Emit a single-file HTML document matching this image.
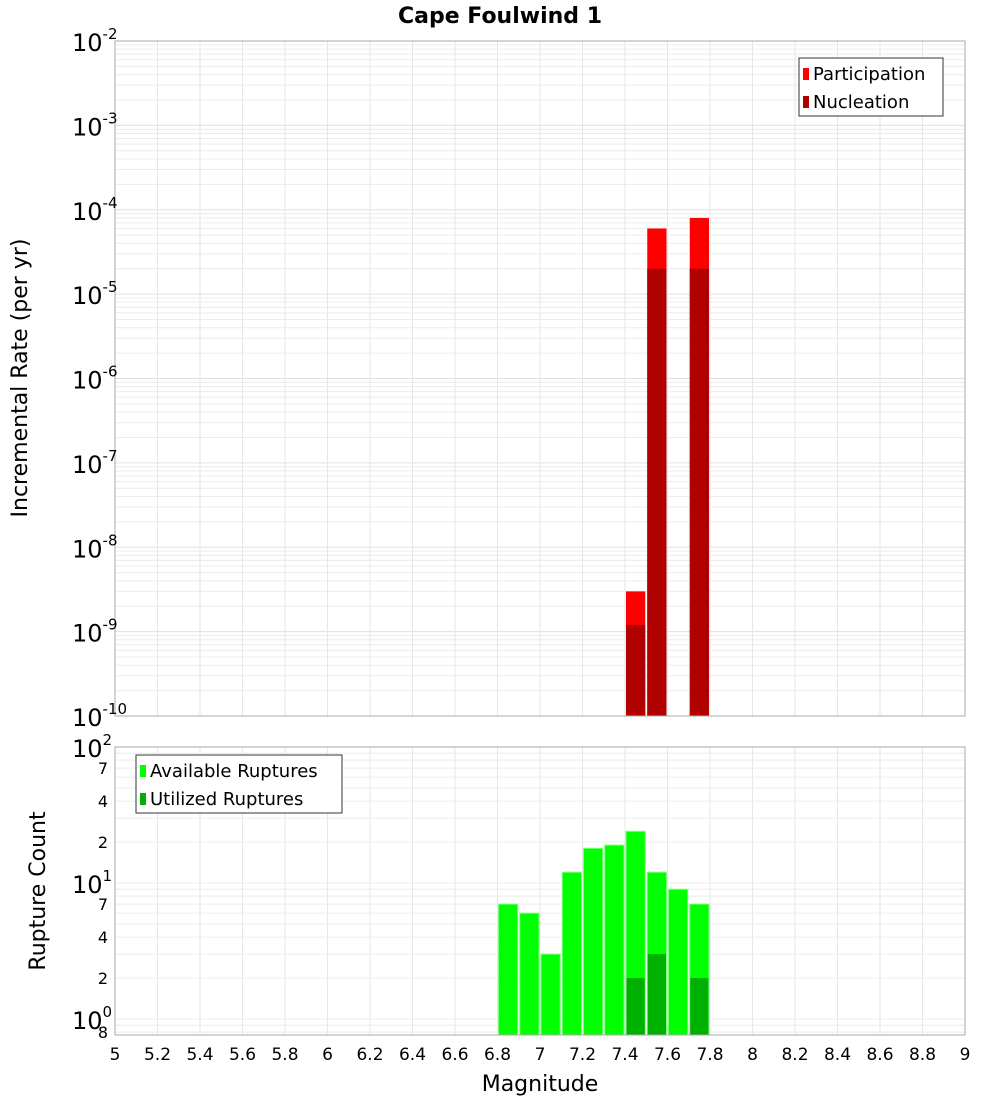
<!DOCTYPE html>
<html><head><meta charset="utf-8"><style>
body{margin:0;background:#fff;font-family:"DejaVu Sans","Liberation Sans",sans-serif}
</style></head><body>
<svg id="c" width="1000" height="1100" xmlns="http://www.w3.org/2000/svg" font-family="DejaVu Sans, Liberation Sans, sans-serif">
<text x="500" y="23" text-anchor="middle" font-size="22" font-weight="bold">Cape Foulwind 1</text>
<g id="topg"></g><g id="botg"></g>
<text transform="translate(27,378) rotate(-90)" text-anchor="middle" font-size="22">Incremental Rate (per yr)</text>
<text transform="translate(45,891) rotate(-90)" text-anchor="middle" font-size="22">Rupture Count</text>
<text x="540" y="1091" text-anchor="middle" font-size="22">Magnitude</text>
</svg>
<script>
const mags=[6.85,6.95,7.05,7.15,7.25,7.35,7.45,7.55,7.65,7.75];
const partMags=[7.45,7.55,7.75];
const participation=[3e-9,6e-5,8e-5];
const nucleation=[1.2e-9,2e-5,2e-5];
const available=[7,6,3,12,18,19,24,12,9,7];
const utilMags=[7.45,7.55,7.75];
const utilized=[2,3,2];
const xTicks=[5,5.2,5.4,5.6,5.8,6,6.2,6.4,6.6,6.8,7,7.2,7.4,7.6,7.8,8,8.2,8.4,8.6,8.8,9];
const topExps=[-10,-9,-8,-7,-6,-5,-4,-3,-2];

const NS="http://www.w3.org/2000/svg";
const L=115,R=965;
const x=m=>L+(m-5)/4*(R-L);
const T1=41,B1=716,yT=v=>B1-(Math.log10(v)+10)/8*(B1-T1);
const T2=747,B2=1035,D2=136,yB=v=>T2+(2-Math.log10(v))*D2;
function el(p,t,a){const e=document.createElementNS(NS,t);for(const k in a)e.setAttribute(k,a[k]);p.appendChild(e);return e;}
const topG=document.getElementById('topg'),botG=document.getElementById('botg');
for(let e=-10;e<-2;e++)for(let k=1;k<10;k++){const yy=yT(k*Math.pow(10,e));const g=el(topG,'line',{x1:L,x2:R,y1:yy,y2:yy,stroke:k==1?'#e0e0e0':'#ececec','stroke-width':1});

}
xTicks.forEach(t=>{const g=el(topG,'line',{x1:x(t),x2:x(t),y1:T1,y2:B1,stroke:'#e6e6e6'});


const g2=el(botG,'line',{x1:x(t),x2:x(t),y1:T2,y2:B2,stroke:'#e6e6e6'});


const lb=el(botG,'text',{x:x(t),y:1060,'text-anchor':'middle','font-size':17});lb.textContent=String(t);

});
for(let e=-1;e<2;e++)for(let k=1;k<10;k++){const v=k*Math.pow(10,e);const yy=yB(v);if(yy>B2||yy<T2)continue;const g=el(botG,'line',{x1:L,x2:R,y1:yy,y2:yy,stroke:'#ececec'});

}
const w=(R-L)/40;
partMags.forEach((m,i)=>{const r=el(topG,'rect',{x:x(m)-w/2+1,y:yT(participation[i]),width:w-2,height:B1-yT(participation[i]),fill:'#ff0000'});


const n=el(topG,'rect',{x:x(m)-w/2+1,y:yT(nucleation[i]),width:w-2,height:B1-yT(nucleation[i]),fill:'#b00000'});

});
mags.forEach((m,i)=>{const r=el(botG,'rect',{x:x(m)-w/2+1,y:yB(available[i]),width:w-2,height:B2-yB(available[i]),fill:'#00ff00',stroke:'#7fff7f','stroke-width':1});

});
utilMags.forEach((m,i)=>{const r=el(botG,'rect',{x:x(m)-w/2+1.5,y:yB(utilized[i]),width:w-3,height:B2-yB(utilized[i]),fill:'#00b000'});

});
const f1=el(topG,'rect',{x:L,y:T1,width:R-L,height:B1-T1,fill:'none',stroke:'#aaa'});


const f2=el(botG,'rect',{x:L,y:T2,width:R-L,height:B2-T2,fill:'none',stroke:'#aaa'});


topExps.forEach(e=>{const yy=yT(Math.pow(10,e));const t=el(topG,'text',{x:72,y:yy+10,'font-size':24});


t.innerHTML='10<tspan dy="-12" font-size="15">'+e+'</tspan>';});
[[100,'2'],[10,'1'],[1,'0']].forEach(([v,s])=>{const yy=yB(v);const t=el(botG,'text',{x:72,y:yy+10,'font-size':24});


t.innerHTML='10<tspan dy="-12" font-size="15">'+s+'</tspan>';});
[[70,'7'],[40,'4'],[20,'2'],[7,'7'],[4,'4'],[2,'2'],[0.8,'8']].forEach(([v,s])=>{const yy=yB(v);const t=el(botG,'text',{x:108,y:yy+6,'font-size':16,'text-anchor':'end'});t.textContent=s;

});
function legend(p,x0,y0,w0,items){const g=el(p,'g',{});


el(g,'rect',{x:x0,y:y0,width:w0,height:58,fill:'#fff',stroke:'#333'});
items.forEach(([c,s],i)=>{el(g,'rect',{x:x0+4,y:y0+10+i*28,width:6,height:12,fill:c});const t=el(g,'text',{x:x0+14,y:y0+22+i*28,'font-size':18});t.textContent=s;

});}
legend(topG,799,58,144,[['#ff0000','Participation'],['#b00000','Nucleation']]);
legend(botG,136,755,206,[['#00ff00','Available Ruptures'],['#00b000','Utilized Ruptures']]);
</script>
</body></html>
